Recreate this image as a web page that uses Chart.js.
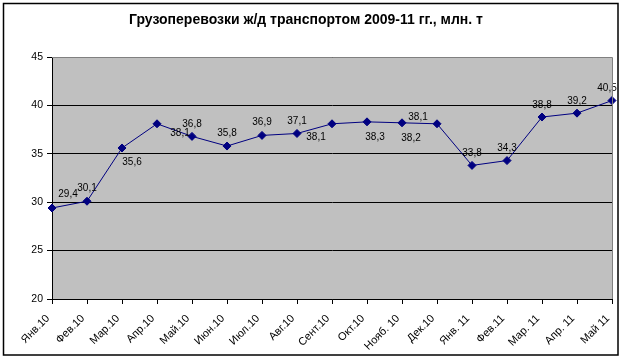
<!DOCTYPE html>
<html>
<head>
<meta charset="utf-8">
<script src="https://cdn.jsdelivr.net/npm/chart.js@4/dist/chart.umd.min.js"></script>
<style>
  html, body { margin: 0; padding: 0; background: #fff; }
  #wrap { width: 623px; height: 360px; position: relative; }
</style>
</head>
<body>
<div id="wrap"><canvas id="c" width="623" height="360"></canvas></div>
<script>
const categories = ['Янв.10','Фев.10','Мар.10','Апр.10','Май.10','Июн.10','Июл.10','Авг.10','Сент.10','Окт.10','Нояб. 10','Дек.10','Янв. 11','Фев.11','Мар. 11','Апр. 11','Май 11'];
const freight = [29.4, 30.1, 35.6, 38.1, 36.8, 35.8, 36.9, 37.1, 38.1, 38.3, 38.2, 38.1, 33.8, 34.3, 38.8, 39.2, 40.5];
const yTicks = [20, 25, 30, 35, 40, 45];
const titleText = 'Грузоперевозки ж/д транспортом 2009-11 гг., млн. т';

// label placement offsets (style, px)
const labelDx = [16, 0, 10, 23, 0, 0, 0, 0, -16, 8, 9, -19, 0, 0, 0, 0, -5];
const labelDy = [-14, -13, 14, 9, -12, -13, -13, -12, 13, 15, 15, -7, -12, -12, -12, -12, -12];

const frame = {
  id: 'frame',
  beforeDraw(chart) {
    const ctx = chart.ctx, a = chart.chartArea;
    ctx.save();
    ctx.fillStyle = '#fff';
    ctx.fillRect(0, 0, chart.width, chart.height);
    ctx.fillStyle = '#C0C0C0';
    ctx.fillRect(a.left, a.top, a.right - a.left, a.bottom - a.top);
    ctx.restore();
  },
  afterDraw(chart) {
    const ctx = chart.ctx, a = chart.chartArea;
    ctx.save();
    ctx.strokeStyle = '#808080';
    ctx.lineWidth = 1;
    ctx.beginPath();
    ctx.moveTo(a.left, a.top + 0.5);
    ctx.lineTo(a.right + 0.5, a.top + 0.5);
    ctx.lineTo(a.right + 0.5, a.bottom);
    ctx.stroke();
    ctx.strokeStyle = '#000';
    ctx.lineWidth = 1.5;
    ctx.strokeRect(3.5, 3.5, 614.5, 351.5);
    ctx.restore();
  }
};

const dataLabels = {
  id: 'dataLabels',
  afterDatasetsDraw(chart) {
    const ctx = chart.ctx;
    const meta = chart.getDatasetMeta(0);
    ctx.save();
    ctx.font = '10px "Liberation Sans", Arial, sans-serif';
    ctx.fillStyle = '#000';
    ctx.textAlign = 'center';
    ctx.textBaseline = 'middle';
    meta.data.forEach((pt, i) => {
      const txt = freight[i].toFixed(1).replace('.', ',');
      ctx.fillText(txt, pt.x + labelDx[i], pt.y + labelDy[i]);
    });
    ctx.restore();
  }
};

new Chart(document.getElementById('c'), {
  type: 'line',
  data: {
    labels: categories,
    datasets: [{
      data: freight,
      borderColor: '#000080',
      backgroundColor: '#000080',
      borderWidth: 1,
      pointStyle: 'rectRot',
      pointRadius: 4,
      pointHoverRadius: 4,
      pointBackgroundColor: '#000080',
      pointBorderColor: '#000080',
      tension: 0,
      fill: false
    }]
  },
  options: {
    responsive: false,
    animation: false,
    devicePixelRatio: 1,
    layout: { padding: { left: 0, right: 11, top: 0, bottom: 0 } },
    plugins: {
      legend: { display: false },
      tooltip: { enabled: false },
      title: {
        display: true,
        text: titleText,
        color: '#000',
        font: { family: '"Liberation Sans", Arial, sans-serif', size: 14, weight: 'bold', lineHeight: 1.2 },
        padding: { top: 11.6, bottom: 28.6 }
      }
    },
    scales: {
      x: {
        type: 'category',
        offset: false,
        grid: { display: true, drawOnChartArea: false, drawTicks: true, tickLength: 5, color: '#000', tickColor: '#000' },
        border: { display: true, color: '#000', width: 1 },
        ticks: {
          color: '#000',
          font: { family: '"Liberation Sans", Arial, sans-serif', size: 11 },
          minRotation: 45, maxRotation: 45, autoSkip: false, padding: 8, labelOffset: -4
        },
        afterFit(scale) {
          scale.height = 61;
          scale.paddingLeft = 0;
          scale.paddingRight = 0;
        }
      },
      y: {
        min: 20, max: 45,
        afterBuildTicks(scale) { scale.ticks = yTicks.map(v => ({ value: v })); },
        grid: { display: true, drawOnChartArea: true, drawTicks: true, tickLength: 5, color: '#000', tickColor: '#000', lineWidth: 1 },
        border: { display: true, color: '#000', width: 1 },
        ticks: {
          color: '#000',
          font: { family: '"Liberation Sans", Arial, sans-serif', size: 10.5 },
          padding: 4
        },
        afterFit(scale) {
          scale.width = 52;
          scale.paddingTop = 0;
          scale.paddingBottom = 0;
        }
      }
    }
  },
  plugins: [frame, dataLabels]
});
</script>
</body>
</html>
